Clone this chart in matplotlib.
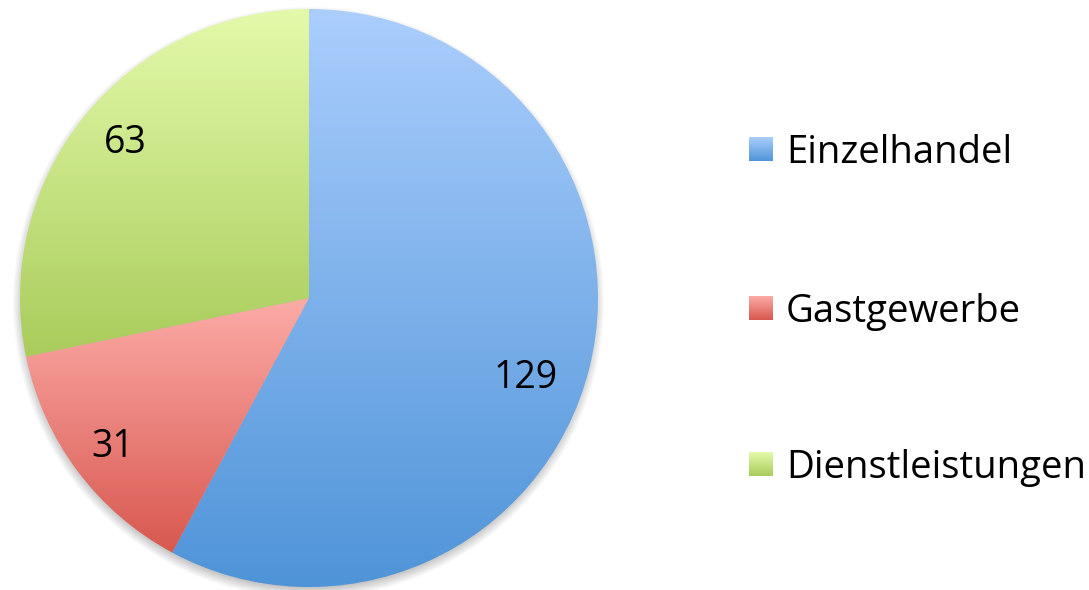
import numpy as np
import matplotlib
matplotlib.use("Agg")
import matplotlib.pyplot as plt
from matplotlib.colors import to_rgb

categories = ["Einzelhandel", "Gastgewerbe", "Dienstleistungen"]
values = [129, 31, 63]
top_colors = ["#abcefd", "#fcaba7", "#e3faaa"]
bottom_colors = ["#4f94d8", "#d8584f", "#a9cc5b"]

W, H = 1089, 590
fig = plt.figure(figsize=(W / 100, H / 100), dpi=100)
ax = fig.add_axes([0, 0, 1, 1])
ax.set_xlim(0, W)
ax.set_ylim(0, H)
ax.set_aspect("equal")
ax.axis("off")

cx, cy, R = 309, H - 298, 289
FONT = "Open Sans"


def gradient_img(c_top, c_bot, n=256):
    t = np.linspace(0, 1, n)[:, None]
    a, b = np.array(to_rgb(c_top)), np.array(to_rgb(c_bot))
    img = a[None, None, :] * (1 - t[..., None]) + b[None, None, :] * t[..., None]
    return np.repeat(img, 2, axis=1)


# soft shadow
yy, xx = np.mgrid[0:H, 0:W]
d = np.hypot(xx - (cx - 1), (H - yy) - (cy - 4))
blur = 7.0
alpha = np.clip((R + blur - d) / (2 * blur), 0, 1) * 0.45
shadow = np.zeros((H, W, 4))
shadow[..., :3] = 0.35
shadow[..., 3] = alpha
ax.imshow(shadow, extent=(0, W, 0, H), origin="upper", zorder=0.5)

wedges, _ = ax.pie(values, startangle=90, counterclock=False, center=(cx, cy),
                   radius=R, frame=True,
                   wedgeprops=dict(facecolor="none", edgecolor="none", linewidth=0))
ax.set_xlim(0, W)
ax.set_ylim(0, H)
ax.axis("off")

for w, ct, cb in zip(wedges, top_colors, bottom_colors):
    path = w.get_path().transformed(w.get_patch_transform())
    v = path.vertices
    x0, x1 = v[:, 0].min(), v[:, 0].max()
    y0, y1 = v[:, 1].min(), v[:, 1].max()
    im = ax.imshow(gradient_img(ct, cb), extent=(x0, x1, y0, y1), origin="upper",
                   aspect="auto", zorder=1, interpolation="bilinear")
    im.set_clip_path(w)
ax.set_xlim(0, W)
ax.set_ylim(0, H)

# value labels
label_pos = [(526, 378), (113, 447), (125, 143)]
for (lx, ly), val in zip(label_pos, values):
    ax.text(lx, H - ly, str(val), ha="center", va="center", fontsize=27,
            family=FONT, color="black", zorder=3)

# legend
leg_y = [149, 308, 464]
for ly, cat, ct, cb in zip(leg_y, categories, top_colors, bottom_colors):
    s = 24
    x0, y0 = 749, H - ly - s / 2
    ax.imshow(gradient_img(ct, cb), extent=(x0, x0 + s, y0, y0 + s), origin="upper",
              aspect="auto", zorder=2, interpolation="bilinear")
    ax.text(786, H - ly - 4, cat, ha="left", va="center", fontsize=27.5,
            family=FONT, color="black", zorder=3)

ax.set_xlim(0, W)
ax.set_ylim(0, H)
fig.savefig("out.png", dpi=100)
